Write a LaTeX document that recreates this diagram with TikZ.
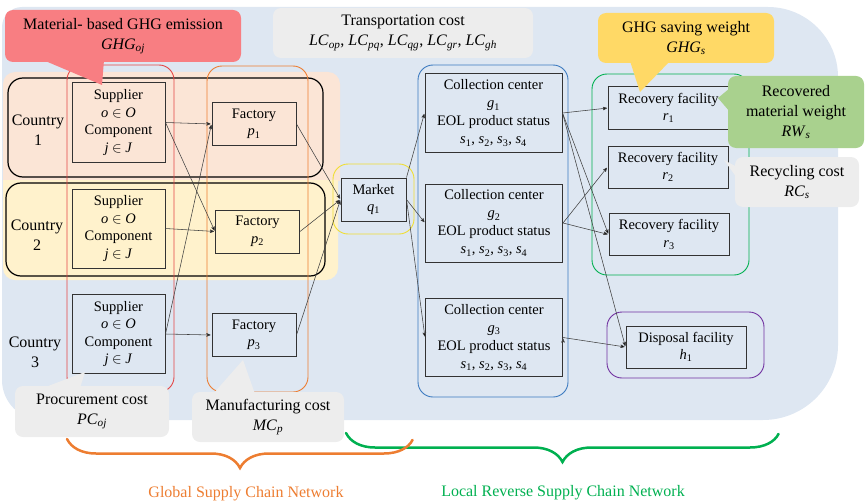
\documentclass[tikz,border=0pt]{standalone}
\usepackage{fontspec}
\setmainfont{Liberation Serif}
\usepackage{tikz}
\usetikzlibrary{arrows,decorations.pathreplacing}

\definecolor{bgblue}{RGB}{222,231,242}
\definecolor{bandpink}{RGB}{251,229,214}
\definecolor{bandyellow}{RGB}{255,242,204}
\definecolor{notegray}{RGB}{237,237,237}
\definecolor{notered}{RGB}{248,126,130}
\definecolor{notegold}{RGB}{255,217,102}
\definecolor{notegreen}{RGB}{169,209,142}
\definecolor{linered}{RGB}{228,68,68}
\definecolor{lineorange}{RGB}{237,125,49}
\definecolor{lineyellow}{RGB}{240,222,50}
\definecolor{lineblue}{RGB}{60,122,192}
\definecolor{linegreen}{RGB}{0,176,80}
\definecolor{linepurple}{RGB}{112,48,160}

\newcommand{\vsub}[2]{\textit{#1}\textsubscript{#2}}
\newcommand{\status}{\vsub{s}{1}, \vsub{s}{2}, \vsub{s}{3}, \vsub{s}{4}}
\newcommand{\supplier}{Supplier\\\textit{o} $\in$ \textit{O}\\Component\\\textit{j} $\in$ \textit{J}}

\begin{document}
\begin{tikzpicture}[x=1pt,y=-1pt,>=stealth',shorten >=1pt,
  box node/.style={draw=black!80,line width=1pt,align=center,inner sep=0pt,
    font=\fontsize{14.5}{17.5}\selectfont},
  supplier node/.style={box node,minimum width=93pt,minimum height=79pt},
  factory node/.style={box node,minimum width=84pt,minimum height=43pt},
  center node/.style={box node,minimum width=137pt,minimum height=78pt,
    font=\fontsize{14.5}{18}\selectfont},
  facility node/.style={box node,minimum width=120pt,minimum height=42pt},
  note node/.style={rounded corners=8pt,align=center,inner sep=0pt,
    font=\fontsize{16}{20}\selectfont},
  country node/.style={align=center,font=\fontsize{16}{20}\selectfont},
  group line/.style={rounded corners=15pt,line width=0.9pt},
  link/.style={->,line width=0.55pt,draw=black!75},
  brace line/.style={decorate,decoration={brace,mirror,amplitude=29pt},
    line width=2.5pt,line cap=round}]
  \useasboundingbox (0,0) rectangle (866,500);

  \fill[bgblue] (2,200) [rounded corners=20pt] -- (2,7) -- (420,7)
    [rounded corners=70pt] -- (838,7) -- (838,200)
    [rounded corners=75pt] -- (838,420) -- (420,420)
    [rounded corners=40pt] -- (2,420) -- cycle;
  \fill[bandpink] (3,181) [rounded corners=12pt] -- (3,72) -- (340,72) [sharp corners] -- (340,181) -- cycle;
  \fill[bandyellow] (3,180) [sharp corners] -- (338,180) [rounded corners=12pt] -- (338,280) -- (3,280) [sharp corners] -- cycle;

  \draw[group line,line width=1.2pt] (8,78) rectangle (323,177);
  \draw[group line,line width=1.2pt] (6,183) rectangle (325,276);
  \draw[group line,linered] (67,65) rectangle (174,392);
  \draw[group line,lineorange] (207,66) rectangle (308,392);
  \draw[group line,lineyellow] (333,164) rectangle (414,234);
  \draw[group line,lineblue] (418,65) rectangle (568,397);
  \draw[group line,linegreen] (592,74) rectangle (749,275);
  \draw[group line,linepurple] (607,312) rectangle (764,378);

  \node[country node] (c1) at (38,130) {Country\\1};
  \node[country node] (c2) at (37,235) {Country\\2};
  \node[country node] (c3) at (35,352) {Country\\3};

  \node[supplier node] (s1) at (118.5,122.5) {\supplier};
  \node[supplier node] (s2) at (118.5,228.5) {\supplier};
  \node[supplier node] (s3) at (118.5,334) {\supplier};
  \node[factory node] (p1) at (254,124) {Factory\\\vsub{p}{1}};
  \node[factory node] (p2) at (257.5,231.5) {Factory\\\vsub{p}{2}};
  \node[factory node] (p3) at (254,335) {Factory\\\vsub{p}{3}};
  \node[box node,minimum width=65pt,minimum height=43pt] (q1) at (373.5,199.5) {Market\\\vsub{q}{1}};
  \node[center node] (g1) at (493.5,113) {Collection center\\\vsub{g}{1}\\EOL product status\\\status};
  \node[center node] (g2) at (494,223) {Collection center\\\vsub{g}{2}\\EOL product status\\\status};
  \node[center node] (g3) at (494,337.5) {Collection center\\\vsub{g}{3}\\EOL product status\\\status};
  \node[facility node] (r1) at (668.5,108) {Recovery facility\\\vsub{r}{1}};
  \node[facility node] (r2) at (668,167) {Recovery facility\\\vsub{r}{2}};
  \node[facility node] (r3) at (669,234.5) {Recovery facility\\\vsub{r}{3}};
  \node[facility node] (h1) at (686,347) {Disposal facility\\\vsub{h}{1}};

  \path[link]
    (s1.east) edge (p1.west)
    (s1.east) edge (p2.west)
    (s2.east) edge (p2.west)
    (s3.east) edge (p1.west)
    (s3.east) edge (p3.west)
    (p1.east) edge (q1.west)
    (p2.east) edge (q1.west)
    (p3.east) edge (q1.west)
    (q1.north east) edge (g1.west)
    (q1.east) edge (g2.west)
    (q1.east) edge (g3.west)
    (g1.east) edge (r1.west)
    (g1.east) edge (r3.west)
    (g1.east) edge (h1.west)
    (g2.east) edge (r2.west)
    (g2.east) edge (r3.west)
    (g3.east) edge (h1.west);

  \node[note node,fill=notered,minimum width=236pt,minimum height=52pt] (ghg) at (123,36)
    {Material- based GHG emission\\\vsub{GHG}{\textit{oj}}};
  \fill[notered] (43,60) -- (102,85) -- (104,60) -- cycle;
  \node[note node,fill=notegray,minimum width=260pt,minimum height=50pt] (lc) at (403,33)
    {Transportation cost\\\vsub{LC}{\textit{op}}, \vsub{LC}{\textit{pq}}, \vsub{LC}{\textit{qg}}, \vsub{LC}{\textit{gr}}, \vsub{LC}{\textit{gh}}};
  \node[note node,fill=notegold,minimum width=176pt,minimum height=50pt] (ghgs) at (686,38)
    {GHG saving weight\\\vsub{GHG}{\textit{s}}};
  \fill[notegold] (630,61) -- (640,92) -- (670,61) -- cycle;
  \node[note node,fill=notegreen,minimum width=136pt,minimum height=72pt] (rw) at (796,112)
    {Recovered\\material weight\\\vsub{RW}{\textit{s}}};
  \fill[notegreen] (730,88) -- (718,98) -- (730,112) -- cycle;
  \node[note node,fill=notegray,minimum width=124pt,minimum height=50pt] (rc) at (797,182)
    {Recycling cost\\\vsub{RC}{\textit{s}}};
  \fill[notegray] (737,167) -- (724,160) -- (737,178) -- cycle;
  \node[note node,fill=notegray,minimum width=154pt,minimum height=51pt] (pc) at (92,411.5)
    {Procurement cost\\\vsub{PC}{\textit{oj}}};
  \fill[notegray] (43,388) -- (85,372) -- (80,388) -- cycle;
  \node[note node,fill=notegray,minimum width=152pt,minimum height=50pt] (mc) at (268,417)
    {Manufacturing cost\\\vsub{MC}{\textit{p}}};
  \fill[notegray] (213,394) -- (243,360) -- (255,394) -- cycle;

  \draw[brace line,linegreen] (346,433) -- (779,433);
  \draw[brace line,lineorange] (67,439) -- (413,439);
  \node[anchor=base,text=lineorange,font=\fontsize{16}{20}\selectfont] (global) at (246,497)
    {Global Supply Chain Network};
  \node[anchor=base,text=linegreen,font=\fontsize{16}{20}\selectfont] (local) at (563,496)
    {Local Reverse Supply Chain Network};
\end{tikzpicture}
\end{document}
